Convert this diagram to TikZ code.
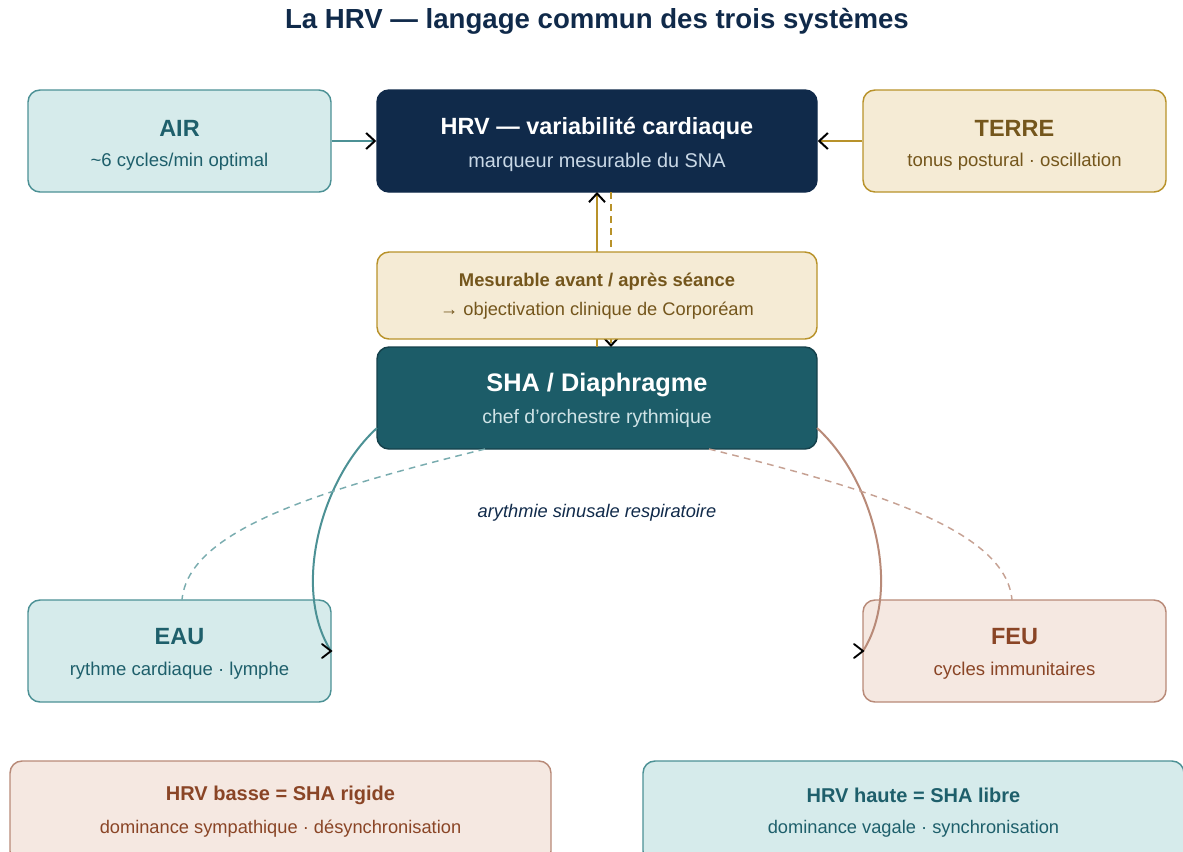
\documentclass[tikz,border=0pt]{standalone}
\usepackage{fontspec}
\setmainfont{Liberation Sans}
\usetikzlibrary{arrows.meta,calc}
\definecolor{tealB}{HTML}{4C9195}
\definecolor{tealF}{HTML}{D6EBEB}
\definecolor{tealT}{HTML}{1E5F6B}
\definecolor{goldB}{HTML}{B8922A}
\definecolor{goldF}{HTML}{F5EBD5}
\definecolor{goldT}{HTML}{74561C}
\definecolor{brB}{HTML}{B88A78}
\definecolor{brF}{HTML}{F5E8E1}
\definecolor{brT}{HTML}{8A4526}
\definecolor{navy}{HTML}{102A4A}
\definecolor{navyT}{HTML}{C9D8E6}
\definecolor{shaF}{HTML}{1C5C68}
\definecolor{shaB}{HTML}{15414B}
\definecolor{shaT}{HTML}{CFE3E6}
\tikzset{
  card/.style={rounded corners=9pt, line width=1.1pt, inner sep=0pt},
  side/.style={card, minimum width=227.25pt, minimum height=76.5pt},
  mid/.style={card, minimum width=330pt, minimum height=76.5pt},
  low/.style={card, minimum width=405.75pt, minimum height=76.5pt},
  ttl/.style={font=\bfseries\fontsize{17.6}{20}\selectfont, inner sep=0pt},
  sub/.style={font=\fontsize{13.9}{16}\selectfont, inner sep=0pt},
  smsub/.style={font=\fontsize{13.7}{16}\selectfont, inner sep=0pt},
  smttl/.style={font=\bfseries\fontsize{13.8}{16}\selectfont, inner sep=0pt},
  tip/.style={-{Straight Barb[length=6.5pt,width=12pt,line width=1.5pt,color=black]}},
  chev/.style={black, line width=1.4pt, line cap=round, line join=miter},
}
\begin{document}
\begin{tikzpicture}[x=0.75pt,y=-0.75pt]
\useasboundingbox (0,0) rectangle (1183,851);
\clip (0,0) rectangle (1183,851);
% title
\node[font=\bfseries\fontsize{20.7}{24}\selectfont, text=navy, inner sep=0pt] (title) at (597,21) {La HRV — langage commun des trois systèmes};
% boxes
\node[side, draw=tealB, fill=tealF] (air) at (179.5,141) {};
\node[mid, draw=navy, fill=navy] (hrv) at (597,141) {};
\node[side, draw=goldB, fill=goldF] (terre) at (1014.5,141) {};
\node[mid, draw=shaB, fill=shaF] (sha) at (597,398) {};
\node[side, draw=tealB, fill=tealF] (eau) at (179.5,651) {};
\node[side, draw=brB, fill=brF] (feu) at (1014.5,651) {};
\node[low, draw=brB, fill=brF] (basse) at (280.5,812) {};
\node[low, draw=tealB, fill=tealF] (haute) at (913.5,812) {};
% texts
\node[ttl, text=tealT] (airT) at (179.5,128) {AIR};
\node[sub, text=tealT] (airS) at (179.5,162) {\textasciitilde6 cycles/min optimal};
\node[ttl, text=white] (hrvT) at (597,128) {HRV — variabilité cardiaque};
\node[sub, text=navyT, font=\fontsize{14.9}{17}\selectfont] (hrvS) at (597,162) {marqueur mesurable du SNA};
\node[ttl, text=goldT] (terreT) at (1014.5,128) {TERRE};
\node[sub, text=goldT] (terreS) at (1014.5,162) {tonus postural · oscillation};
\node[ttl, text=white, font=\bfseries\fontsize{19}{22}\selectfont] (shaTt) at (597,385) {SHA / Diaphragme};
\node[sub, text=shaT, font=\fontsize{14.6}{17}\selectfont] (shaS) at (597,418) {chef d'orchestre rythmique};
\node[ttl, text=tealT] (eauT) at (179.5,637) {EAU};
\node[sub, text=tealT] (eauS) at (179.5,671) {rythme cardiaque · lymphe};
\node[ttl, text=brT] (feuT) at (1014.5,637) {FEU};
\node[sub, text=brT] (feuS) at (1014.5,671) {cycles immunitaires};
\node[smttl, text=brT, font=\bfseries\fontsize{15}{17}\selectfont] (basseT) at (280.5,795) {HRV basse = SHA rigide};
\node[smsub, text=brT] (basseS) at (280.5,829) {dominance sympathique · désynchronisation};
\node[smttl, text=tealT, font=\bfseries\fontsize{15}{17}\selectfont] (hauteT) at (913.5,795) {HRV haute = SHA libre};
\node[smsub, text=tealT] (hauteS) at (913.5,829) {dominance vagale · synchronisation};
\node[font=\itshape\fontsize{13.7}{16}\selectfont, text=navy, inner sep=0pt] (asr) at (597,513) {arythmie sinusale respiratoire};
% connectors
\draw[tip, tealB, line width=1.5pt] (air.east) -- (hrv.west);
\draw[tip, goldB, line width=1.5pt] (terre.west) -- (hrv.east);
\coordinate (shaA) at (597,347);
\coordinate (hrvA) at (597,192);
\draw[tip, goldB, line width=2.2pt] (shaA) -- (hrvA);
\coordinate (hrvB) at (611,192);
\coordinate (shaB1) at (611,347);
\draw[tip, goldB, line width=1.1pt, dash pattern=on 5pt off 4pt] (hrvB) -- (shaB1);
\coordinate (shaL) at (377,428);
\coordinate (eauR) at (331,651);
\draw[tealB, line width=1.5pt] (shaL) .. controls (320,480) and (292,590) .. (eauR);
\draw[chev] ($(eauR)+(-9,-7)$) -- (eauR) -- ($(eauR)+(-9,7)$);
\coordinate (shaR) at (817,428);
\coordinate (feuL) at (863,651);
\draw[brB, line width=1.5pt] (shaR) .. controls (874,480) and (902,590) .. (feuL);
\draw[chev] ($(feuL)+(-9,-7)$) -- (feuL) -- ($(feuL)+(-9,7)$);
\coordinate (shaBL) at (485,449);
\coordinate (eauTop) at (182,600);
\draw[tealB!75, line width=1.1pt, dash pattern=on 5pt off 4pt] (shaBL) .. controls (320,490) and (188,530) .. (eauTop);
\coordinate (shaBR) at (709,449);
\coordinate (feuTop) at (1012,600);
\draw[brB!80, line width=1.1pt, dash pattern=on 5pt off 4pt] (shaBR) .. controls (874,490) and (1006,530) .. (feuTop);
% measurable box on top
\node[card, minimum width=330pt, minimum height=65.25pt, draw=goldB, fill=goldF] (mes) at (597,295.5) {};
\node[smttl, text=goldT] (mesT) at (597,282) {Mesurable avant / après séance};
\node[smsub, text=goldT] (mesS) at (597,311) {→ objectivation clinique de Corporéam};
\end{tikzpicture}
\end{document}
